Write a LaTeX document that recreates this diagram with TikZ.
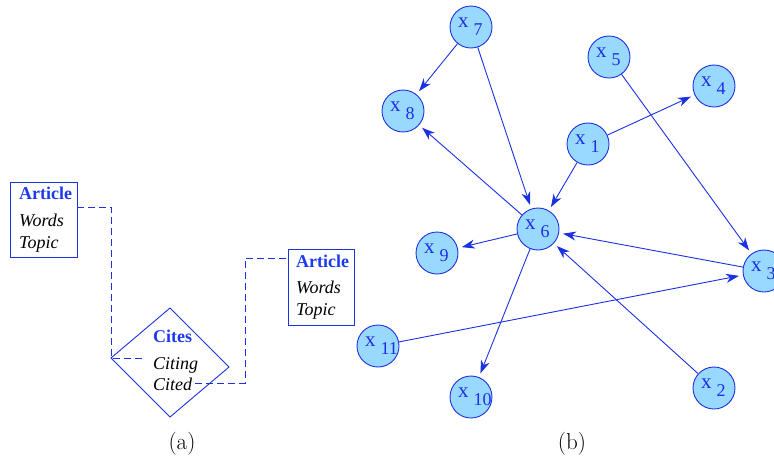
\documentclass[tikz,border=0pt]{standalone}
\usepackage{fontspec}
\setmainfont{Liberation Serif}
\newfontfamily\lmfont{Latin Modern Roman}
\usetikzlibrary{arrows.meta}
\definecolor{lblue}{RGB}{28,48,228}
\definecolor{tblue}{RGB}{30,58,240}
\definecolor{cfill}{RGB}{153,216,255}
\newcommand\xlab[1]{\makebox[0pt][l]{\hspace{-13pt}{\fontsize{21}{21}\selectfont x}\hspace{5pt}\raisebox{-8pt}{#1}}}
\tikzset{
  vx/.style={circle,draw=lblue,fill=cfill,line width=0.9pt,minimum size=42pt,inner sep=0pt,
    text height=0pt,text depth=0pt,text=lblue,font=\fontsize{18}{18}\selectfont},
  edge/.style={draw=lblue,line width=0.9pt,-{Stealth[length=13pt,width=9pt,inset=4pt]},shorten >=4pt},
  abox/.style={draw=lblue,line width=0.9pt},
  ttl/.style={anchor=base west,inner sep=0pt,text=tblue,font=\fontsize{18}{18}\selectfont\bfseries},
  itl/.style={anchor=base west,inner sep=0pt,font=\fontsize{18}{18}\selectfont\itshape},
  dsh/.style={draw=lblue,line width=0.9pt,dash pattern=on 7pt off 4pt},
  sublabel/.style={anchor=base,inner sep=0pt,font=\lmfont\fontsize{23}{23}\selectfont}
}
\begin{document}
\begin{tikzpicture}[x=1pt,y=-1pt]
\useasboundingbox (0,0) rectangle (774,459);
% ---- (a) ----
\coordinate (b1nw) at (10,182);
\coordinate (b1se) at (77,257);
\draw[abox] (b1nw) rectangle (b1se);
\node[ttl] (a1t) at (19,199) {Article};
\node[itl] (a1w) at (19,226) {Words};
\node[itl] (a1p) at (19,248) {Topic};
\coordinate (b2nw) at (288,249);
\coordinate (b2se) at (354,325);
\draw[abox] (b2nw) rectangle (b2se);
\node[ttl] (a2t) at (296,267) {Article};
\node[itl] (a2w) at (296,293) {Words};
\node[itl] (a2p) at (296,315) {Topic};
\coordinate (dt) at (170,308);
\coordinate (dl) at (111,358);
\coordinate (dr) at (229,367);
\coordinate (db) at (170,417);
\draw[abox] (dt) -- (dr) -- (db) -- (dl) -- cycle;
\node[ttl] (ct) at (153,342) {Cites};
\node[itl] (cg) at (153,369) {Citing};
\node[itl] (cd) at (153,390) {Cited};
\coordinate (p1) at (77,207);
\coordinate (p2) at (145,358);
\draw[dsh] (p1) -- (111,207) -- (dl) -- (p2);
\coordinate (q1) at (195,383);
\coordinate (q2) at (288,258);
\draw[dsh] (q1) -- (245,383) -- (245,258) -- (q2);
\node[sublabel] (la) at (182,449) {(a)};
% ---- (b) ----
\node[vx] (x7) at (471,27) {\xlab{7}};
\node[vx] (x8) at (403,111) {\xlab{8}};
\node[vx] (x5) at (609,57) {\xlab{5}};
\node[vx] (x4) at (714,86) {\xlab{4}};
\node[vx] (x1) at (588,144) {\xlab{1}};
\node[vx] (x6) at (538,229) {\xlab{6}};
\node[vx] (x9) at (437,253) {\xlab{9}};
\node[vx] (x3) at (764,271) {\xlab{3}};
\node[vx] (x11) at (378,346) {\xlab{11}};
\node[vx] (x10) at (471,397) {\xlab{10}};
\node[vx] (x2) at (714,388) {\xlab{2}};
\draw[edge] (x7) -- (x8);
\draw[edge] (x7) -- (x6);
\draw[edge] (x1) -- (x4);
\draw[edge] (x1) -- (x6);
\draw[edge] (x6) -- (x8);
\draw[edge] (x5) -- (x3);
\draw[edge] (x3) -- (x6);
\draw[edge] (x6) -- (x9);
\draw[edge] (x6) -- (x10);
\draw[edge] (x2) -- (x6);
\draw[edge] (x11) -- (x3);
\node[sublabel] (lb) at (572,449) {(b)};
\end{tikzpicture}
\end{document}
